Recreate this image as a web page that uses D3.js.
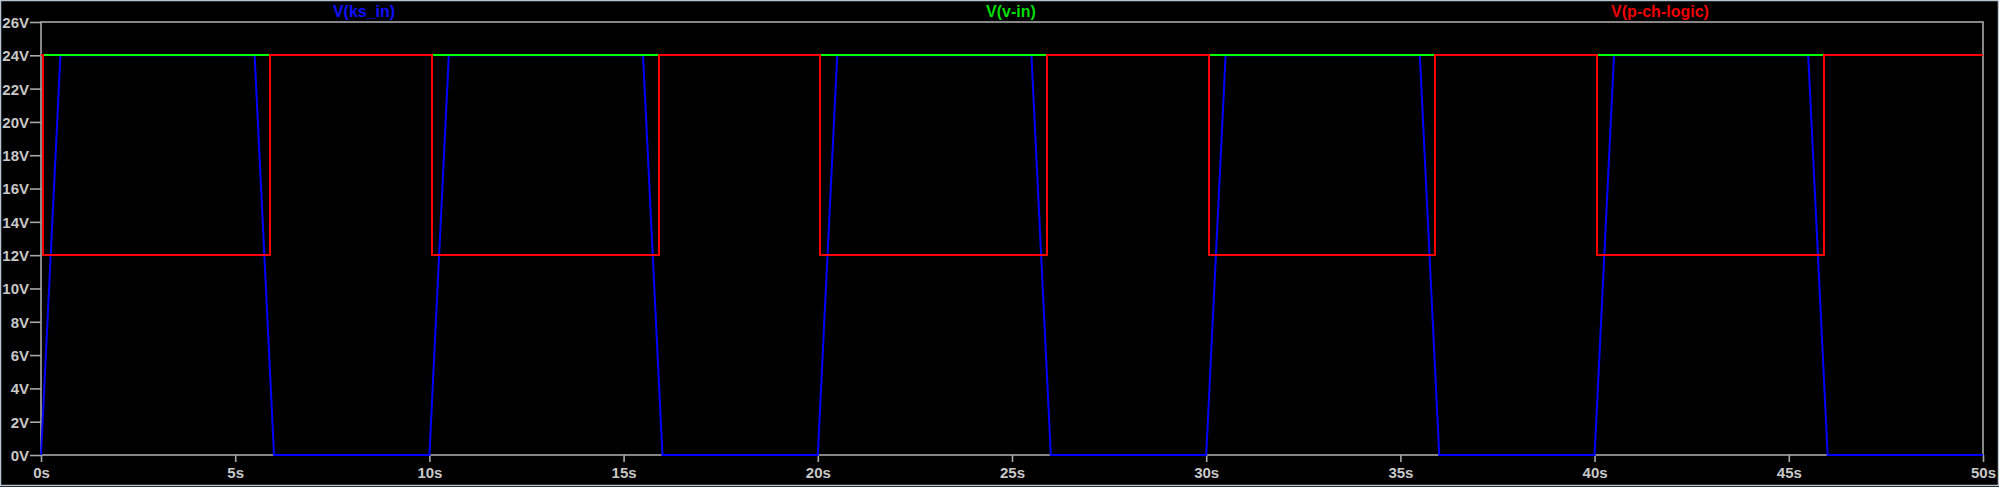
<!DOCTYPE html>
<html>
<head>
<meta charset="utf-8">
<script src="https://cdn.jsdelivr.net/npm/d3@7/dist/d3.min.js"></script>
<style>
html,body{margin:0;padding:0;background:#000;}
svg{display:block;}
</style>
</head>
<body>
<svg id="chart" width="1999" height="487"></svg>
<script>
// ---- data ----
const xTicks = [0,5,10,15,20,25,30,35,40,45,50];
const yTicks = [0,2,4,6,8,10,12,14,16,18,20,22,24,26];
const seriesNames = ["V(ks_in)","V(v-in)","V(p-ch-logic)"];
const seriesColors = ["#0000ff","#00ff00","#ff0000"];
const labelColors = ["#1010ff","#00dd00","#ee0000"];

const ksInTime = [0,0.5,5.5,6.0,10,10.5,15.5,16.0,20,20.5,25.5,26.0,30,30.5,35.5,36.0,40,40.5,45.5,46.0,50];
const ksInVolt = [0,24,24,0,0,24,24,0,0,24,24,0,0,24,24,0,0,24,24,0,0];

const vInTime = [0,50];
const vInVolt = [24,24];

const pchTime = [0,0.06,0.06,5.9,5.9,10.06,10.06,15.9,15.9,20.06,20.06,25.9,25.9,30.06,30.06,35.9,35.9,40.06,40.06,45.9,45.9,50];
const pchVolt = [24,24,12,12,24,24,12,12,24,24,12,12,24,24,12,12,24,24,12,12,24,24];

// ---- layout ----
const W = 1999, H = 487;
const mLeft = 41, mRight = 1983, mTop = 22, mBottom = 455;
const svg = d3.select("#chart");

svg.append("rect").attr("x",0).attr("y",0).attr("width",W).attr("height",H).attr("fill","#000");
svg.append("rect").attr("x",0.5).attr("y",0.5).attr("width",W-1).attr("height",H-2)
  .attr("fill","none").attr("stroke","#b8c4d0").attr("stroke-width",1.5);

const x = d3.scaleLinear().domain([0,50]).range([mLeft,mRight]);
const y = d3.scaleLinear().domain([0,26]).range([mBottom,mTop]);

const axisColor = "#a8a8a8";
const textColor = "#c8c8c8";
const font = "'Liberation Sans', Arial, sans-serif";

// frame
svg.append("rect").attr("x",mLeft).attr("y",mTop).attr("width",mRight-mLeft).attr("height",mBottom-mTop)
  .attr("fill","none").attr("stroke",axisColor).attr("stroke-width",1.6);

// y axis
const yAxis = d3.axisLeft(y).tickValues(yTicks).tickSize(11).tickPadding(1).tickFormat(d => d + "V");
const gy = svg.append("g").attr("transform",`translate(${mLeft},0)`).call(yAxis);
gy.select(".domain").remove();
gy.selectAll(".tick line").attr("stroke",axisColor).attr("stroke-width",1.6);
gy.selectAll(".tick text").attr("fill",textColor).attr("font-family",font)
  .attr("font-weight","bold").attr("font-size","15px").attr("dy","0.36em");

// x axis
const xAxis = d3.axisBottom(x).tickValues(xTicks).tickSize(7).tickPadding(5).tickFormat(d => d + "s");
const gx = svg.append("g").attr("transform",`translate(0,${mBottom})`).call(xAxis);
gx.select(".domain").remove();
gx.selectAll(".tick line").attr("stroke",axisColor).attr("stroke-width",1.6);
gx.selectAll(".tick text").attr("fill",textColor).attr("font-family",font)
  .attr("font-weight","bold").attr("font-size","15px").attr("dy","0.75em");

// traces
const line = d3.line().x(d => x(d[0])).y(d => y(d[1]));
const traces = [
  d3.zip(ksInTime, ksInVolt),
  d3.zip(vInTime, vInVolt),
  d3.zip(pchTime, pchVolt)
];
const crisp = [false, true, true];
traces.forEach((pts,i) => {
  svg.append("path").attr("d", line(pts)).attr("fill","none")
    .attr("stroke", seriesColors[i]).attr("stroke-width",2).attr("stroke-linejoin","miter")
    .attr("shape-rendering", crisp[i] ? "crispEdges" : "auto");
});

// trace labels
const labelX = [364, 1011, 1660];
seriesNames.forEach((n,i) => {
  svg.append("text").attr("x",labelX[i]).attr("y",17).attr("text-anchor","middle")
    .attr("fill",labelColors[i]).attr("font-family",font).attr("font-weight","bold")
    .attr("font-size","16px").text(n);
});
</script>
</body>
</html>
